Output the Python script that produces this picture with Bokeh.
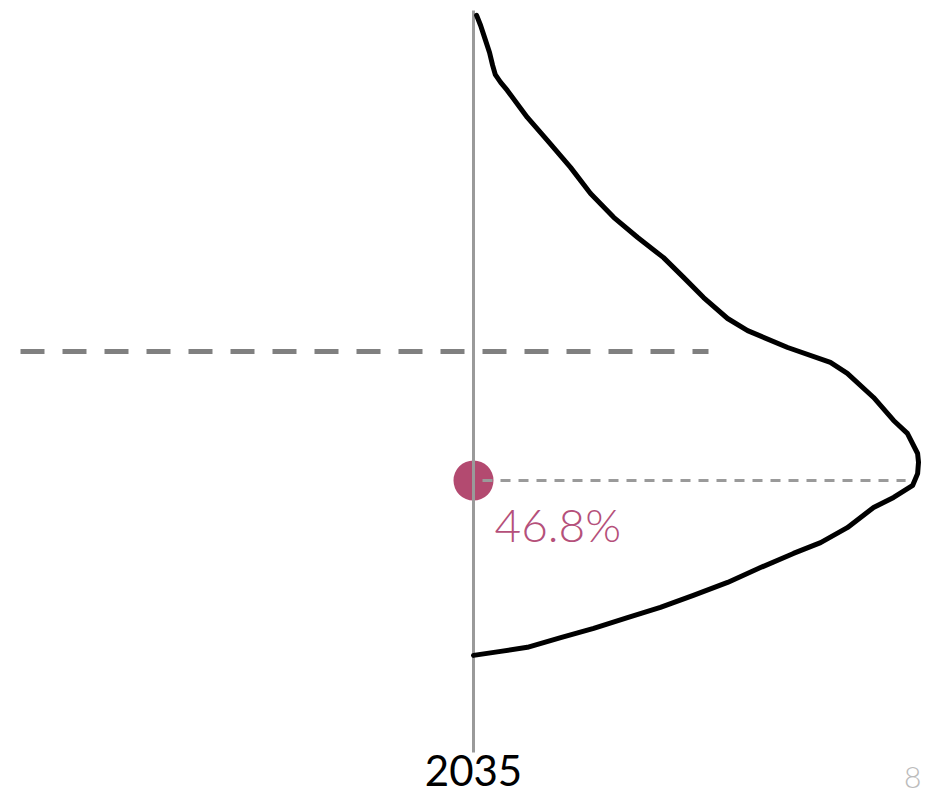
from bokeh.plotting import figure
from bokeh.models import Range1d
from bokeh.core.properties import value
from bokeh.embed import file_html
from bokeh.resources import INLINE

# ---- data ----
year = 2035
forecast_pct = 46.8
threshold_pct = 50.0
tick_labels = ["2035"]
page_label = "8"

# density of forecast outcomes (normalised, peak = 1) against vote share (%)
dens_share = [58.34, 58.09, 57.79, 57.42, 57.10, 56.87, 56.68, 56.48, 55.81, 55.24,
              54.57, 53.92, 53.33, 52.83, 52.33, 51.84, 51.34, 50.82, 50.52, 50.10,
              49.73, 49.46, 48.86, 48.29, 47.97, 47.47, 47.25, 46.97, 46.68, 46.38,
              46.13, 45.63, 45.26, 44.99, 44.64, 44.27, 43.95, 43.65, 43.40, 43.13,
              42.90, 42.66, 42.56, 42.46]
dens_value = [0.007, 0.016, 0.025, 0.036, 0.043, 0.049, 0.061, 0.076, 0.121, 0.166,
              0.218, 0.263, 0.315, 0.369, 0.427, 0.472, 0.517, 0.571, 0.616, 0.706,
              0.802, 0.840, 0.899, 0.944, 0.975, 0.998, 1.000, 0.998, 0.987, 0.944,
              0.899, 0.840, 0.780, 0.719, 0.645, 0.571, 0.494, 0.420, 0.346, 0.270,
              0.196, 0.121, 0.061, 0.000]

# ---- figure ----
W, H = 922, 796
PX_PER_YEAR = 445.0
PX_PER_PCT = 40.3
x0_px, y0_px = 473.0, 480.0  # canvas position of (year, forecast_pct)

p = figure(width=W, height=H, output_backend="svg", toolbar_location=None,
           x_range=Range1d(year - x0_px / PX_PER_YEAR, year + (W - x0_px) / PX_PER_YEAR),
           y_range=Range1d(forecast_pct - (H - y0_px) / PX_PER_PCT, forecast_pct + y0_px / PX_PER_PCT),
           min_border=0)
p.axis.visible = False
p.grid.visible = False
p.outline_line_color = None
p.background_fill_color = "white"
p.border_fill_color = "white"

def yv(px):
    return forecast_pct + (y0_px - px) / PX_PER_PCT

def xv(px):
    return year + (px - x0_px) / PX_PER_YEAR

# forecast dot
p.scatter([year], [forecast_pct], size=40, color="#b34a70", line_color=None)

# year guide line
p.segment(x0=[year], y0=[yv(752)], x1=[year], y1=[yv(10)], line_color="#9a9a9a", line_width=3)

# threshold dashed line
p.segment(x0=[xv(20)], y0=[threshold_pct], x1=[xv(708)], y1=[threshold_pct],
          line_color="#808080", line_width=5, line_dash="24 18")

# dotted line from forecast to density peak
peak = max(dens_value)
p.segment(x0=[xv(482)], y0=[forecast_pct], x1=[year + peak * 0.971], y1=[forecast_pct],
          line_color="#9a9a9a", line_width=3, line_dash="10 8")

# density curve
xs = [year + d for d in dens_value]
p.line(xs, dens_share, line_color="black", line_width=5, line_join="round", line_cap="round")

# label
p.text([xv(494)], [yv(524)], text=[f"{forecast_pct}%"],
       text_font=value("Lato Light"), text_font_size="46px", text_color="#b5507a",
       text_align="left", text_baseline="alphabetic")

# tick label
p.text([year], [yv(770)], text=tick_labels, text_font=value("Lato"), text_font_size="42px",
       text_color="black", text_align="center", text_baseline="alphabetic")

# page number
p.text([xv(W - 1)], [yv(777)], text=[page_label],
       text_font=value("Lato Light"), text_font_size="30px", text_color="#bbbbbb",
       text_align="right", text_baseline="alphabetic")

open("out.html", "w").write(file_html(p, INLINE))
